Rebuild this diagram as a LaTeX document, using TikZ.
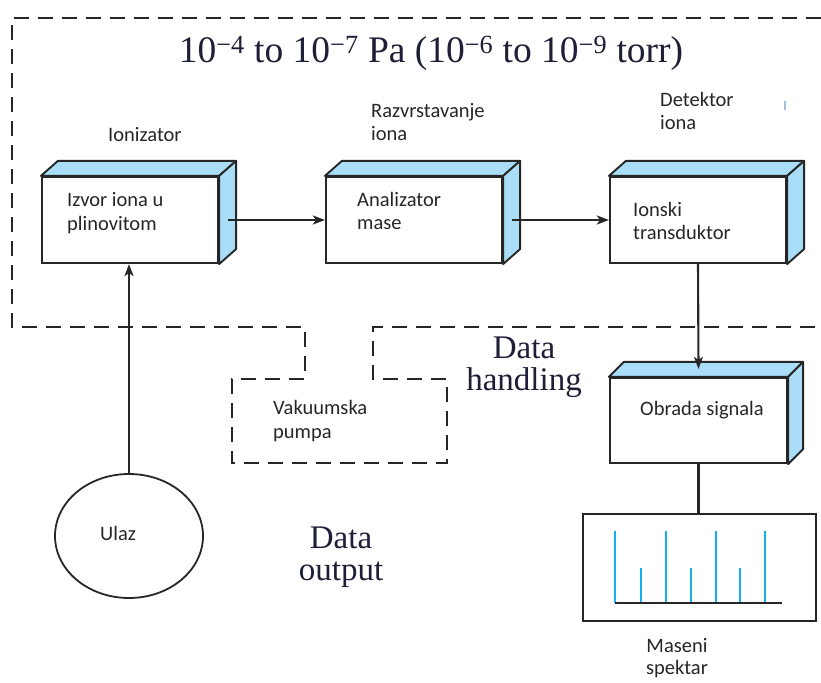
\documentclass[tikz,border=0pt]{standalone}
\usepackage{fontspec}
\setmainfont{Liberation Serif}
\newfontfamily\lblfont{Carlito}
\usetikzlibrary{arrows.meta,shapes.geometric}
\definecolor{sidefill}{RGB}{170,222,248}
\definecolor{barblue}{RGB}{20,176,240}
\definecolor{ink}{RGB}{38,38,38}
\definecolor{serifink}{RGB}{30,30,55}
\definecolor{strayblue}{RGB}{80,140,200}
\newcommand\cubefaces[2]{%
  \draw[face] (#1.north west) -- ([shift={(#2,-15)}]#1.north west) -- ([shift={(#2,-15)}]#1.north east) -- (#1.north east) -- cycle;
  \draw[face] (#1.north east) -- ([shift={(#2,-15)}]#1.north east) -- ([shift={(#2,-15)}]#1.south east) -- (#1.south east) -- cycle;
}
\begin{document}
\begin{tikzpicture}[x=1pt,y=-1pt,
  front/.style={draw=ink, line width=2.2pt, fill=white, minimum width=176pt, minimum height=86pt, inner sep=0pt},
  face/.style={draw=ink, line width=1.9pt, fill=sidefill, line join=round},
  arr/.style={draw=ink, line width=2.1pt, -{Stealth[length=12pt,width=9pt,inset=3pt]}},
  conn/.style={draw=ink, line width=2.1pt},
  lbl/.style={font=\lblfont\fontsize{20.5}{23.5}\selectfont, text=ink, align=left, anchor=west, inner sep=0pt},
  big/.style={font=\fontsize{33}{32}\selectfont, text=serifink, align=center, inner sep=0pt},
  vac/.style={draw=ink, line width=2.3pt, dash pattern=on 15pt off 9pt}
]
\useasboundingbox (0,0) rectangle (821,682);

% vacuum boundary
\draw[vac] (821,18) -- (12,18) -- (12,327) -- (305,327) -- (305,379) -- (232,379) -- (232,463) -- (447,463) -- (447,379) -- (373,379) -- (373,327) -- (821,327);

\node[big, font=\fontsize{37.5}{38}\selectfont] (title) at (431,53) {10\textsuperscript{−4} to 10\textsuperscript{−7} Pa (10\textsuperscript{−6} to 10\textsuperscript{−9} torr)};

% boxes
\node[front] (b1) at (130,220) {};
\cubefaces{b1}{17}
\node[front] (b2) at (414,220) {};
\cubefaces{b2}{17}
\node[front] (b3) at (698,220) {};
\cubefaces{b3}{17}
\node[front, minimum width=177pt, minimum height=85pt] (b4) at (698.5,420.5) {};
\cubefaces{b4}{15}

% labels
\node[lbl] (t1) at (67,213) {Izvor iona u\\plinovitom};
\node[lbl] (t2) at (357,211) {Analizator\\mase};
\node[lbl] (t3) at (633,221) {Ionski\\transduktor};
\node[lbl] (t4) at (640,410) {Obrada signala};
\node[lbl] (h1) at (108,135) {Ionizator};
\node[lbl] (h2) at (371,122) {Razvrstavanje\\iona};
\node[lbl] (h3) at (660,111) {Detektor\\iona};
\node[lbl] (pump) at (273,421) {Vakuumska\\pumpa};
\node[lbl] (ulazt) at (100,533) {Ulaz};
\node[lbl, align=center, anchor=center, font=\lblfont\fontsize{20.5}{21.5}\selectfont] (spect) at (677,658) {Maseni\\spektar};
\node[font=\lblfont\fontsize{13}{13}\selectfont, text=strayblue, inner sep=0pt] (stray) at (785,106) {l};

\node[big] (dh) at (524,367) {Data\\handling};
\node[big] (dout) at (341,557) {Data\\output};

% input
\node[draw=ink, line width=1.8pt, ellipse, minimum width=148pt, minimum height=124pt, inner sep=0pt] (ulaz) at (129,536) {};

% spectrum
\node[draw=ink, line width=2.1pt, minimum width=233pt, minimum height=107pt, inner sep=0pt] (spec) at (699.5,567.5) {};
\foreach \x/\t in {615/531,641/568,666/531,691/568,716/531,740/568,765/531}
  \draw[barblue, line width=2.4pt] (\x,603) -- (\x,\t);
\draw[ink, line width=1.9pt] (615,603) -- (782,603);

% connectors
\draw[arr] ([xshift=9pt]b1.east) -- (b2.west);
\draw[arr] ([xshift=9pt]b2.east) -- (b3.west);
\draw[arr] (b3.south) -- ([yshift=8pt]b4.north);
\draw[conn] (b4.south) -- (b4.south |- spec.north);
\draw[arr] (ulaz.north) -- (ulaz.north |- b1.south);
\end{tikzpicture}
\end{document}
